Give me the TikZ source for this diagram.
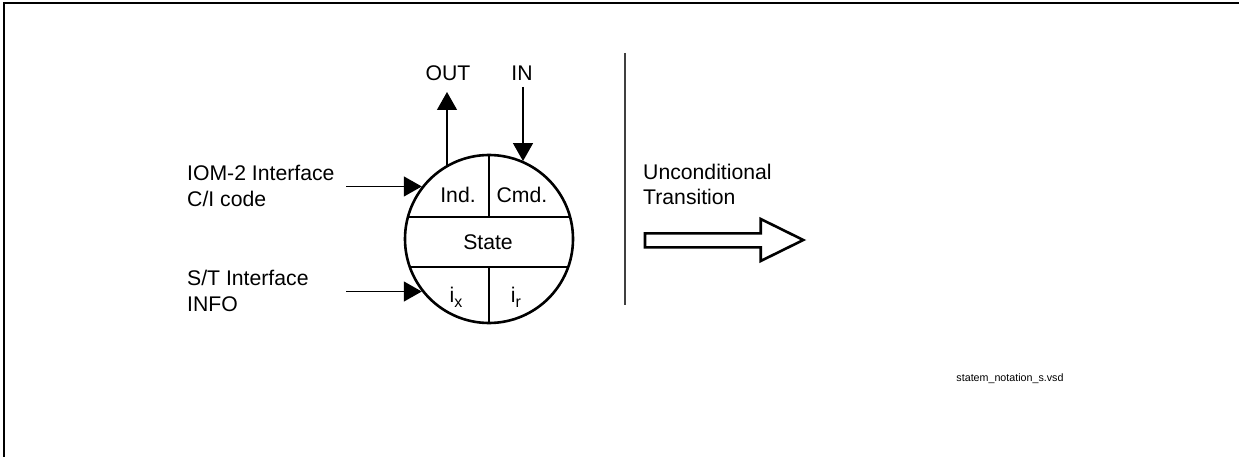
\documentclass[tikz,border=0pt]{standalone}
\usepackage{fontspec}
\setmainfont{Liberation Sans}
\usetikzlibrary{arrows.meta,positioning}

\newcommand{\lowsub}[1]{\raisebox{-5pt}{\fontsize{16}{16}\selectfont #1}}

\begin{document}
\begin{tikzpicture}[x={(1pt,0pt)},y={(0pt,-1pt)},
  lbl/.style={inner sep=0pt,font=\fontsize{21.2}{25.6}\selectfont},
  sig/.style={line width=1.3pt,-{Triangle[length=18pt,width=20pt]}},
  part/.style={line width=2.6pt}]
\useasboundingbox (0,0) rectangle (1239,457);
% frame
\draw[line width=2pt] (4,457)--(4,3)--(1239,3);
% state symbol
\node[circle,draw,part,minimum size=168pt,inner sep=0pt] (st) at (489,239) {};
\begin{scope}
  \clip (489,239) circle[radius=84];
  \draw[part] (380,217)--(600,217) (380,267)--(600,267)
    (489,150)--(489,217) (489,267)--(489,330);
\end{scope}
\node[lbl] (ind) at (458,195) {Ind.};
\node[lbl] (cmd) at (522,195) {Cmd.};
\node[lbl] (state) at (488,242) {State};
\node[lbl] (ix) at (456,297) {i\lowsub{x}};
\node[lbl] (ir) at (516,297) {i\lowsub{r}};
% signals
\node[lbl] (out) at (448,73) {OUT};
\node[lbl] (in) at (522,73) {IN};
\coordinate (outend) at (447,92);
\coordinate (inbeg) at (523,87);
\draw[sig] (outend |- st.120) -- (outend);
\draw[sig] (inbeg) -- (inbeg |- st.66);
\node[lbl,anchor=west,align=left] (iom) at (187,186) {IOM-2 Interface\\C/I code};
\node[lbl,anchor=west,align=left] (stif) at (187,291) {S/T Interface\\INFO};
\coordinate (iomA) at (346,186);
\coordinate (stA) at (346,292);
\draw[sig] (iomA |- st.142) -- (st.142);
\draw[sig] (stA |- st.218) -- (st.218);
% separator
\draw[line width=1.5pt,black!75] (625,53)--(625,305);
% unconditional transition
\node[lbl,anchor=west,align=left] (uncond) at (643,184.5) {Unconditional\\Transition};
\draw[part,line join=miter] (645,233.3)--(760.7,233.3)--(760.7,219)--(803.3,240)
  --(760.7,261)--(760.7,247.3)--(645,247.3)--cycle;
\node[inner sep=0pt,font=\fontsize{10.7}{13}\selectfont] (file) at (1010,379) {statem\_notation\_s.vsd};
\end{tikzpicture}
\end{document}
